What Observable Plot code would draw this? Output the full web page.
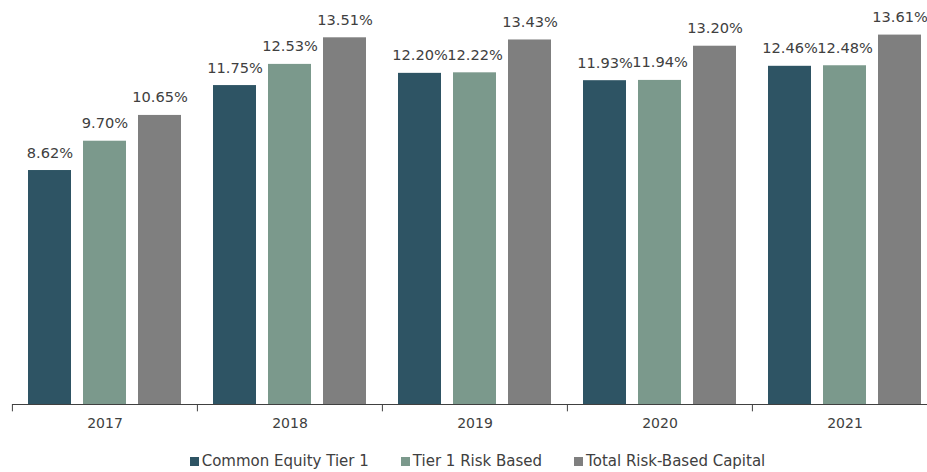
<!DOCTYPE html>
<html>
<head>
<meta charset="utf-8">
<script src="https://cdn.jsdelivr.net/npm/d3@7"></script>
<script src="https://cdn.jsdelivr.net/npm/@observablehq/plot@0.6"></script>
<style>
  html, body { margin: 0; padding: 0; background: #fff; }
  #chart svg { display: block; }
  #legend { display: flex; justify-content: center; padding-left: 60px; margin-top: 11px; }
  #legend .lg-swatch { margin-right: 32px !important; }
  #legend .lg-swatch > svg { margin-right: 3px !important; }
  #legend .lg-swatches-wrap { min-height: 20px !important; }
</style>
</head>
<body>
<div id="chart"></div>
<div id="legend"></div>
<script>
// Capital ratios by year (percent)
const years = ["2017", "2018", "2019", "2020", "2021"];
const series = ["Common Equity Tier 1", "Tier 1 Risk Based", "Total Risk-Based Capital"];
const commonEquityTier1 = [8.62, 11.75, 12.20, 11.93, 12.46];
const tier1RiskBased = [9.70, 12.53, 12.22, 11.94, 12.48];
const totalRiskBasedCapital = [10.65, 13.51, 13.43, 13.20, 13.61];
const colors = ["#2e5464", "#7b998c", "#7f7f7f"];

const valuesBySeries = [commonEquityTier1, tier1RiskBased, totalRiskBasedCapital];
const rows = years.flatMap((year, i) =>
  series.map((s, j) => ({year, series: s, value: valuesBySeries[j][i]}))
);

const font = "'DejaVu Sans', sans-serif";
const ink = "#404040";
const width = 927;
const marginLeft = 11;
const marginRight = -10;
const bandwidth = (width - marginLeft - marginRight) / years.length;

const chart = Plot.plot({
  width,
  height: 440,
  marginTop: 24,
  marginBottom: 36,
  marginLeft,
  marginRight,
  style: {fontFamily: font, fontSize: "14px", color: ink, background: "#fff"},
  facet: {data: rows, x: "year"},
  fx: {domain: years, padding: 0, axis: "bottom", tickSize: 0, tickPadding: 14, label: null},
  x: {domain: series, paddingInner: 0.22, paddingOuter: 0.29, axis: null},
  y: {domain: [0, 14], axis: null},
  color: {domain: series, range: colors},
  marks: [
    Plot.barY(rows, {x: "series", y: "value", fill: "series"}),
    Plot.text(rows, {
      x: "series",
      y: "value",
      text: d => d.value.toFixed(2) + "%",
      lineAnchor: "bottom",
      dy: -13,
      fontSize: 14.6,
      fill: ink
    }),
    // category axis baseline and boundary ticks between years
    Plot.ruleY([0], {stroke: "#404040", strokeWidth: 1}),
    Plot.ruleX([0], {x: null, y1: 0, y2: -0.27, dx: -bandwidth / 2, stroke: "#404040", strokeWidth: 1})
  ]
});
document.getElementById("chart").appendChild(chart);

const legend = Plot.legend({
  color: {domain: series, range: colors},
  swatchSize: 9,
  className: "lg",
  style: {fontFamily: font, fontSize: "15px", color: ink}
});
document.getElementById("legend").appendChild(legend);
</script>
</body>
</html>
